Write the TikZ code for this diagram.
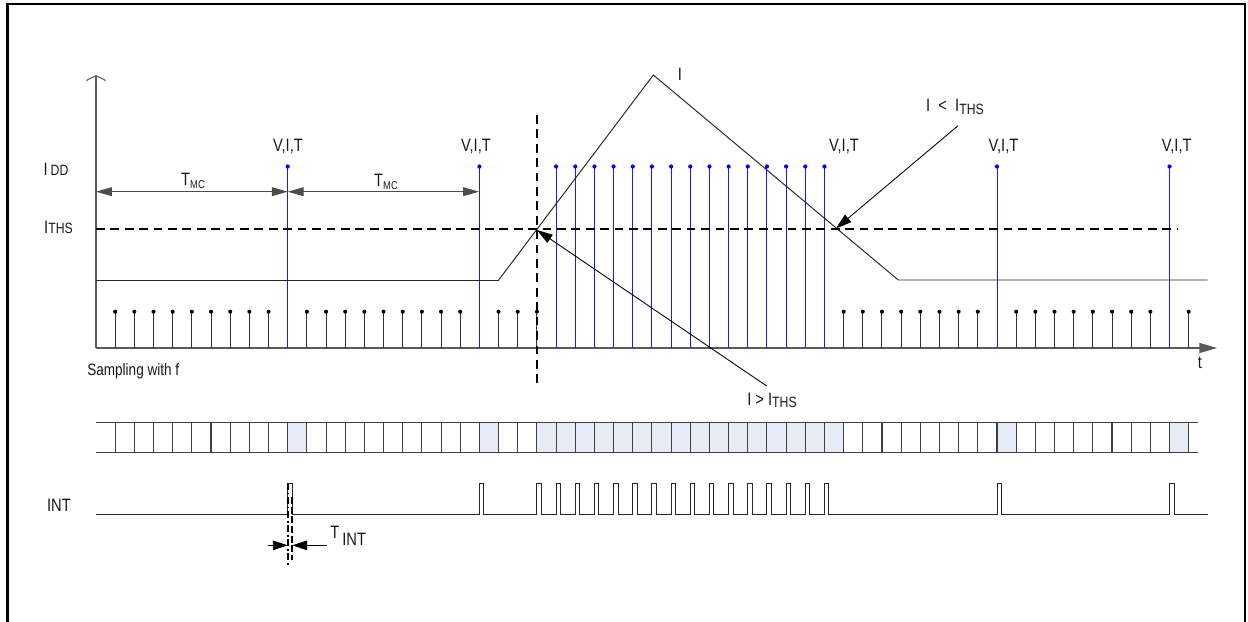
\documentclass[tikz,border=0pt]{standalone}
\usepackage{fontspec}
\setmainfont{Liberation Sans}[FakeStretch=0.82]
\usetikzlibrary{arrows.meta}
\definecolor{cellfill}{HTML}{E6ECF6}
\newcommand\subtxt[1]{{\fontsize{8.5}{9}\selectfont #1}}

\begin{document}
\begin{tikzpicture}[
        x=0.02cm, y=-0.02cm,
        txt/.style={font=\fontsize{10.2}{12}\selectfont, inner sep=0pt, text=black!90},
        axis/.style={black!65, line width=0.6pt},
        sig/.style={black!85, line width=0.55pt},
        stem/.style={black!80, line width=0.55pt},
        bstem/.style={blue!90, line width=0.55pt},
        cellline/.style={black!75, line width=0.6pt},
        thrline/.style={black, line width=1.5pt, dash pattern=on 5pt off 3.2pt},
        dimarrow/.style={black!70, line width=0.55pt, {Triangle[length=9pt,width=5pt]}-{Triangle[length=9pt,width=5pt]}},
        callout/.style={black, line width=0.5pt, -{Triangle[length=9pt,width=5.5pt]}},
        tintarrow/.style={black, line width=0.55pt, -{Triangle[length=8.5pt,width=5.5pt]}},
      ]
        \useasboundingbox (0,0) rectangle (1248,622);
        \draw[line width=1.6pt] (7.5,625) -- (7.5,4) -- (1245,4) -- (1245,625);

        % axes
        \coordinate (org) at (96,348);
        \coordinate (ytop) at (96,75);
        \coordinate (tend) at (1217,348);
        \draw[axis, -{Straight Barb[length=2.8pt,width=11pt]}] (org) -- (ytop);
        \draw[axis, -{Triangle[length=10pt,width=5.7pt]}] (org) -- (tend);

        % cells: shaded first, then the grid
        \foreach \k in {10,20,23,24,...,38,47,56}
          \fill[cellfill] ({96+19.17*\k},422.7) rectangle ({96+19.17*(\k+1)},452.7);
        \draw[cellline] (96,422.7) -- (1198,422.7) (96,452.7) -- (1198,452.7);
        \foreach \k in {1,...,57}
          \draw[cellline] ({96+19.17*\k},422.7) -- ++(0,30);

        % sampling with f (black) and measurement samples (blue)
        \foreach \k in {1,...,9,11,12,...,19,21,22,23,39,40,...,46,48,49,...,55,57} {
          \draw[stem] ({96+19.17*\k},348) -- ({96+19.17*\k},311.7);
          \fill ({96+19.17*\k},311.7) circle[radius=1.15pt];
        }
        \foreach \k in {10,20,24,25,...,38,47,56} {
          \draw[bstem] ({96+19.17*\k},348) -- ({96+19.17*\k},166.5);
          \fill[blue] ({96+19.17*\k},166.5) circle[radius=1.2pt];
        }

        % current I and threshold
        \coordinate (pk) at (653.3,75);
        \draw[sig] (96,280.5) -- (498.3,280.5) -- (pk) -- (898.3,280) -- (1207.7,280);
        \coordinate (thrA) at (96,229);
        \coordinate (thrB) at (1178,229);
        \draw[thrline] (thrA) -- (thrB);
        \coordinate (vtop) at (537,115);
        \coordinate (vbot) at (537,383);
        \draw[thrline] (vtop) -- (vbot);

        % T_MC spans
        \coordinate (tmcA) at (96,191.7);
        \coordinate (tmcB) at (287.7,191.7);
        \coordinate (tmcC) at (479,191.7);
        \draw[dimarrow] (tmcA) -- (tmcB);
        \draw[dimarrow] (tmcB) -- (tmcC);
        \node[txt] (tmc1) at (193,181) {T\raisebox{-1.7pt}{\fontsize{6.5}{7}\selectfont MC}};
        \node[txt] (tmc2) at (386,181.5) {T\raisebox{-1.7pt}{\fontsize{6.5}{7}\selectfont MC}};

        % labels
        \node[txt] (lblIDD) at (56,169) {I\,\subtxt{DD}};
        \node[txt] (lblITHS) at (58.5,227) {I\subtxt{THS}};
        \node[txt, anchor=west, font=\fontsize{9.4}{11}\selectfont] (lblSamp) at (87,371) {Sampling with f};
        \node[txt] (lblT) at (1200,363) {t};
        \node[txt] (lblI) at (680,74) {I};
        \node[txt] (lblINT) at (59,505) {INT};
        \node[txt, anchor=base] (vit1) at (288,151.5) {V,I,T};
        \node[txt, anchor=base] (vit2) at (476,151.5) {V,I,T};
        \node[txt, anchor=base] (vit3) at (844,151.5) {V,I,T};
        \node[txt, anchor=base] (vit4) at (1003.5,151.5) {V,I,T};
        \node[txt, anchor=base] (vit5) at (1176.7,151.5) {V,I,T};

        % crossing call-outs
        \coordinate (xup) at (537,230);
        \coordinate (xdn) at (836,228.5);
        \node[txt] (lblGT) at (772,400) {I > I\raisebox{-1.2pt}{\subtxt{THS}}};
        \node[txt] (lblLT) at (955,106.7) {I\ \ <\ \ I\raisebox{-1.5pt}{\subtxt{THS}}};
        \coordinate (gtStart) at (766.7,386);
        \coordinate (ltStart) at (958,125.7);
        \draw[callout] (gtStart) -- (xup);
        \draw[callout] (ltStart) -- (xdn);

        % INT line
        \draw[sig] (96,514.5)
          \foreach \k in {10,20,23,24,...,38,47,56} {
            -- ({96+19.17*\k},514.5) -- ++(0,-31) -- ++(4.5,0) -- ++(0,31)
          } -- (1207.7,514.5);

        % T_INT
        \draw[line width=1.2pt, dash pattern=on 4pt off 1.5pt on 1pt off 1.5pt] (287.7,483) -- (287.7,566.7);
        \draw[line width=1.2pt, dash pattern=on 4pt off 1.5pt] (292.3,497) -- (292.3,560);
        \coordinate (tintL) at (287.7,545.3);
        \coordinate (tintR) at (292.3,545.3);
        \coordinate (tintLs) at (268.3,545.3);
        \coordinate (tintRs) at (326.7,545.3);
        \draw[tintarrow] (tintLs) -- (tintL);
        \draw[tintarrow] (tintRs) -- (tintR);
        \node[txt, anchor=west] (lblTINT) at (330,536) {T\,\raisebox{-4.2pt}{INT}};
      \end{tikzpicture}
\end{document}
